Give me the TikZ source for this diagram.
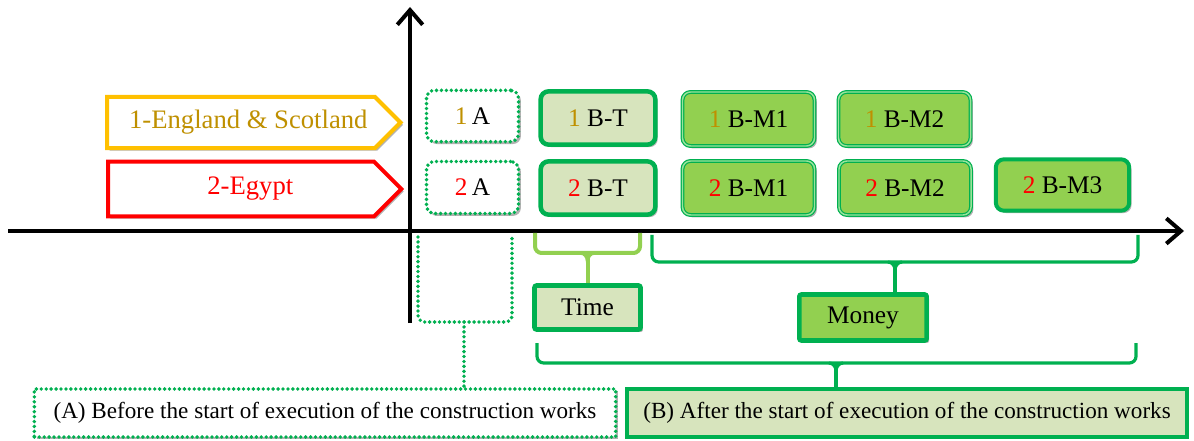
\documentclass[tikz,border=0pt]{standalone}
\usepackage{fontspec}
\setmainfont{Liberation Serif}
\usetikzlibrary{shapes.symbols,shadows,arrows.meta,calc}
\definecolor{grn}{HTML}{00B050}
\definecolor{lgrn}{HTML}{92D050}
\definecolor{pale}{HTML}{D7E4BD}
\definecolor{gold}{HTML}{BF9000}
\definecolor{amber}{HTML}{FFC000}
\definecolor{dblgap}{HTML}{9BE39B}
\newcommand{\uk}{\textcolor{gold}{1}}
\newcommand{\eg}{\textcolor{red}{2}}
\begin{document}
\begin{tikzpicture}[x=0.75pt,y=-0.75pt,
  shade/.style={drop shadow={shadow xshift=1.8pt,shadow yshift=-1.8pt,opacity=0.3,fill=black}},
  axis/.style={line width=3pt,-{Straight Barb[length=11pt,width=19pt]}},
  country/.style={signal,signal to=east,signal pointer angle=90,line width=3pt,fill=white,
    minimum width=220pt,inner xsep=2pt,font=\fontsize{20}{24}\selectfont,shade},
  dots/.style={draw=grn,line width=2.9pt,line cap=round,dash pattern=on 0pt off 3.7pt},
  plan/.style={rectangle,rounded corners=6pt,dots,fill=white,minimum width=69pt,minimum height=38.5pt,
    font=\fontsize{19}{23}\selectfont,shade},
  timebox/.style={rectangle,rounded corners=6pt,draw=grn,line width=3.4pt,fill=pale,
    minimum width=86pt,minimum height=40pt,font=\fontsize{19}{23}\selectfont,shade},
  moneybox/.style={rectangle,rounded corners=6pt,draw=grn,line width=0.9pt,double=dblgap,
    double distance=1.1pt,fill=lgrn,minimum width=99pt,minimum height=40.5pt,
    font=\fontsize{19}{23}\selectfont,shade},
  moneythick/.style={rectangle,rounded corners=6pt,draw=grn,line width=3pt,fill=lgrn,
    minimum width=100pt,minimum height=38.5pt,font=\fontsize{19}{23}\selectfont,shade},
  tag/.style={rectangle,rounded corners=1.5pt,draw=grn,line width=3.4pt,
    font=\fontsize{19}{23}\selectfont,shade},
  phase/.style={rectangle,font=\fontsize{17.35}{20}\selectfont,minimum height=36pt,shade},
  brace/.style={line width=2.4pt,rounded corners=5pt},
  dotbrace/.style={dots,rounded corners=5pt},
  flare/.style={line width=2.4pt}
]
\useasboundingbox (0,0) rectangle (1194,441);

% axes
\coordinate (yB) at (410,323);
\coordinate (yT) at (410,7);
\coordinate (xL) at (8,231);
\coordinate (xR) at (1184,231);
\draw[axis] (yB) -- (yT);
\draw[axis] (xL) -- (xR);

% countries
\node[country,draw=amber,text=gold,minimum height=38.5pt] (eng) at (241,122.5) {\hspace*{11pt}1-England \& Scotland};
\node[country,draw=red,text=red,minimum height=41pt] (egy) at (241,189) {\hspace*{14pt}2-Egypt};

% stage A
\node[plan] (a1) at (472.5,116) {\uk\,A};
\node[plan,minimum height=39pt] (a2) at (472.5,187.5) {\eg\,A};

% stage B, time
\node[timebox] (bt1) at (598,118) {\uk\ B-T};
\node[timebox] (bt2) at (598,188) {\eg\ B-T};

% stage B, money
\node[moneybox] (bm11) at (748.5,119) {\uk\ B-M1};
\node[moneybox] (bm12) at (904.5,119) {\uk\ B-M2};
\node[moneybox] (bm21) at (748.5,188) {\eg\ B-M1};
\node[moneybox] (bm22) at (905,188) {\eg\ B-M2};
\node[moneythick] (bm23) at (1062.5,185) {\eg\ B-M3};

% grouping labels
\node[tag,fill=pale,minimum width=79.5pt,minimum height=33pt] (time) at (587.5,307.5) {Time};
\node[tag,fill=lgrn,minimum width=95.5pt,minimum height=34.5pt] (money) at (863,317.5) {Money};

% phase boxes
\node[phase,fill=white,dots,minimum width=436pt] (pa) at (325,413)
  {(A) Before the start of execution of the construction works};
\node[phase,fill=pale,draw=grn,line width=3pt,minimum width=420pt] (pb) at (907,413)
  {(B) After the start of execution of the construction works};

% bracket over the time column
\coordinate (tl) at (535,233);
\coordinate (tr) at (640,233);
\coordinate (tm) at (587.5,253);
\draw[brace,draw=lgrn,line width=3pt] (tl) |- (tr |- tm) -- (tr);
\draw[draw=lgrn,line width=3pt] (tm) -- (time.north);
\draw[flare,draw=lgrn,line width=2.6pt] ($(tm)+(-7,0)$) to[out=0,in=90] ($(tm)+(0,8)$) to[out=90,in=180] ($(tm)+(7,0)$);

% bracket over the money columns
\coordinate (ml) at (652,235);
\coordinate (mr) at (1138,235);
\coordinate (mm) at (895,262);
\draw[brace,draw=grn] (ml) |- (mr |- mm) -- (mr);
\draw[draw=grn,line width=2.4pt] (mm) -- (mm |- money.north);
\draw[flare,draw=grn] ($(mm)+(-7,0)$) to[out=0,in=90] ($(mm)+(0,8)$) to[out=90,in=180] ($(mm)+(7,0)$);

% bracket under stage B
\coordinate (bl) at (537,343);
\coordinate (br) at (1136,343);
\coordinate (bm) at (836,363);
\draw[brace,draw=grn] (bl) |- (br |- bm) -- (br);
\draw[draw=grn,line width=2.4pt] (bm) -- (bm |- pb.north);
\draw[flare,draw=grn] ($(bm)+(-7,0)$) to[out=0,in=90] ($(bm)+(0,8)$) to[out=90,in=180] ($(bm)+(7,0)$);

% bracket under stage A
\coordinate (al) at (418,237);
\coordinate (ar) at (512,237);
\coordinate (am) at (464,322);
\draw[dotbrace] (al) |- (ar |- am) -- (ar);
\draw[dots] (am) -- (am |- pa.north);
\end{tikzpicture}
\end{document}
